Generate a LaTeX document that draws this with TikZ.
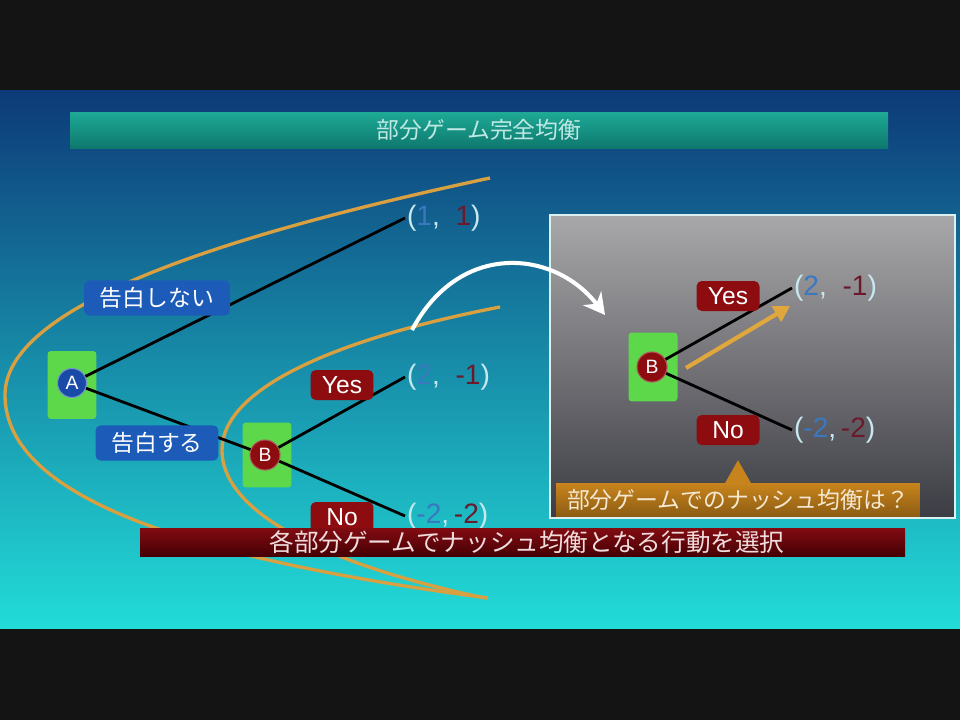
\documentclass[tikz,border=0pt]{standalone}
\usepackage{fontspec}
\setmainfont{Liberation Sans}
\newfontfamily\jp{Noto Sans CJK JP}
\usepackage{xcolor}
\usepackage{tikz}
\usetikzlibrary{arrows,arrows.meta,calc,positioning}

\definecolor{slidetop}{HTML}{0D3A78}
\definecolor{slidemid}{HTML}{157AA6}
\definecolor{slidebot}{HTML}{22DCD8}
\definecolor{titletop}{HTML}{1EAA96}
\definecolor{titlebot}{HTML}{0E786E}
\definecolor{titletext}{HTML}{BEE8E4}
\definecolor{bartop}{HTML}{820C12}
\definecolor{barbot}{HTML}{460004}
\definecolor{bartext}{HTML}{F0DCDC}
\definecolor{insettop}{HTML}{A8A8AA}
\definecolor{insetbot}{HTML}{3C3C44}
\definecolor{insetrim}{HTML}{DCF0F0}
\definecolor{nodegreen}{HTML}{5CD84A}
\definecolor{ablue}{HTML}{1A4AA8}
\definecolor{mblue}{HTML}{1C5CB8}
\definecolor{bred}{HTML}{8C0C10}
\definecolor{zonecol}{HTML}{D8A040}
\definecolor{bestcol}{HTML}{E0A83C}
\definecolor{pa}{HTML}{3A78C0}
\definecolor{pb}{HTML}{6A1A2A}
\definecolor{parcol}{HTML}{C8E8F0}
\definecolor{hintcol}{HTML}{C8841C}
\definecolor{hinttext}{HTML}{F5E8D2}

\tikzset{
  pick/.style={rectangle, rounded corners=2pt, fill=nodegreen, minimum width=0.98cm, minimum height=1.32cm},
  pA/.style={circle, fill=ablue, draw=ablue!60!white, line width=0.6pt, text=white, minimum size=0.58cm, inner sep=0pt, font=\fontsize{11}{12}\selectfont},
  pB/.style={circle, fill=bred, draw=bred!70!white, line width=0.6pt, text=white, minimum size=0.6cm, inner sep=0pt, font=\fontsize{11}{12}\selectfont},
  move/.style={rectangle, rounded corners=3pt, fill=mblue, text=white, minimum height=0.6cm, inner xsep=9pt, inner ysep=4pt, font=\jp\fontsize{13}{14}\selectfont},
  yesno/.style={rectangle, rounded corners=3pt, fill=bred, text=white, minimum width=1.26cm, minimum height=0.6cm, inner sep=0pt, font=\fontsize{14}{15}\selectfont},
  payoff/.style={anchor=west, inner sep=1pt, text=parcol, font=\fontsize{16}{18}\selectfont},
  branch/.style={line width=1.6pt, black},
  zone/.style={line width=1.9pt, zonecol},
}

\begin{document}
\begin{tikzpicture}[x=0.02cm, y=-0.02cm]
\useasboundingbox (0,0) rectangle (960,720);
% slide
\fill[black!92] (0,0) rectangle (960,720);
\shade[top color=slidetop, middle color=slidemid, bottom color=slidebot] (0,90) rectangle (960,628);
% title
\shade[top color=titletop, bottom color=titlebot] (70,112) rectangle (888,148);
\node[text=titletext, font=\jp\fontsize{13}{14}\selectfont] (title) at (479,130) {部分ゲーム完全均衡};
% subgames
\draw[zone] (490,178) .. controls (200,240) and (5,310) .. (5,395) .. controls (5,500) and (200,560) .. (488,598);
\draw[zone] (500,307) .. controls (330,340) and (222,390) .. (222,450) .. controls (222,520) and (350,570) .. (485,598);
% tree
\node[pick, minimum height=1.36cm] (Abox) at (72,385) {};
\node[pA] (A) at (72,383) {A};
\node[pick, minimum height=1.3cm] (Bmbox) at (267,455) {};
\node[pB] (Bm) at (265,455) {B};
\node[payoff] (p1) at (405,218) {(\textcolor{pa}{1},\ \ \textcolor{pb}{1})};
\node[payoff] (p2) at (405,377) {(\textcolor{pa}{2},\ \ \textcolor{pb}{-1})};
\node[payoff] (p3) at (405,516) {(\textcolor{pa}{-2},\,\textcolor{pb}{-2})};
\draw[branch] (A) -- (p1.west);
\draw[branch] (A) -- (Bm);
\draw[branch] (Bm) -- (p2.west);
\draw[branch] (Bm) -- (p3.west);
\node[move] (notell) at (157,298) {告白しない};
\node[move] (tell) at (157,443) {告白する};
\node[yesno] (yes1) at (342,385) {Yes};
\node[yesno] (no1) at (342,517) {No};
% summary bar
\shade[top color=bartop, bottom color=barbot] (140,528) rectangle (905,556);
\node[text=bartext, font=\jp\fontsize{14}{15}\selectfont] (summary) at (527,542) {各部分ゲームでナッシュ均衡となる行動を選択};
% inset
\shade[top color=insettop, bottom color=insetbot] (550,215) rectangle (955,518);
\draw[line width=1.6pt, insetrim] (550,215) rectangle (955,518);
\node[pick, minimum height=1.38cm] (Bibox) at (653,367) {};
\node[pB] (Bi) at (652,367) {B};
\node[payoff] (q1) at (792,288) {(\textcolor{pa}{2},\ \ \textcolor{pb}{-1})};
\node[payoff] (q2) at (792,430) {(\textcolor{pa}{-2},\,\textcolor{pb}{-2})};
\draw[branch] (Bi) -- (q1.west);
\draw[branch] (Bi) -- (q2.west);
\node[yesno] (yes2) at (728,296) {Yes};
\node[yesno] (no2) at (728,430) {No};
\coordinate (ofrom) at (686,368);
\coordinate (oto) at (790,306);
\draw[line width=2.4pt, bestcol, -{Triangle[length=9pt,width=10pt]}] (ofrom) -- (oto);
% hint
\node[rectangle, minimum width=7.28cm, minimum height=0.66cm, inner sep=0pt, top color=hintcol, bottom color=hintcol!70!black, text=hinttext, font=\jp\fontsize{13}{14}\selectfont] (hint) at (738,500) {部分ゲームでのナッシュ均衡は？};
\fill[hintcol] ([xshift=-0.26cm]hint.north) -- ([yshift=0.46cm]hint.north) -- ([xshift=0.26cm]hint.north) -- cycle;
% jump
\coordinate (wfrom) at (412,330);
\coordinate (wto) at (605,315);
\draw[white, line width=2.3pt, -{Stealth[length=12pt,width=13pt]}] (wfrom) .. controls (460,240) and (555,250) .. (wto);
\end{tikzpicture}
\end{document}
